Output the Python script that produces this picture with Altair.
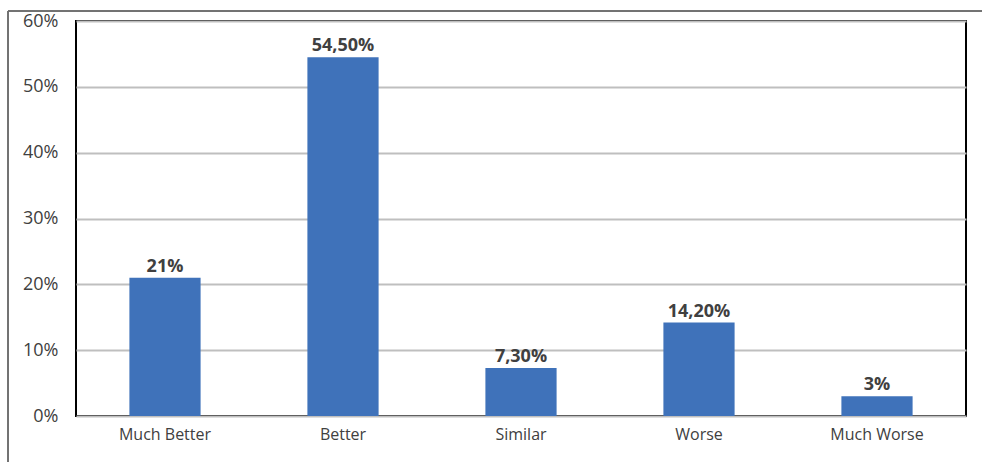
import altair as alt
import pandas as pd

categories = ["Much Better", "Better", "Similar", "Worse", "Much Worse"]
values = [21.0, 54.5, 7.3, 14.2, 3.0]
value_labels = ["21%", "54,50%", "7,30%", "14,20%", "3%"]
y_ticks = [0, 10, 20, 30, 40, 50, 60]

df = pd.DataFrame({"category": categories, "value": values, "label": value_labels})

FONT = "Open Sans"
BAR = "#3F72BA"

x_enc = alt.X(
    "category:N",
    sort=categories,
    title=None,
    scale=alt.Scale(paddingInner=0.6, paddingOuter=0.3),
    axis=alt.Axis(
        labelAngle=0, labelFont=FONT, labelFontSize=16, labelColor="#404040",
        labelPadding=10, ticks=False, domain=False, grid=False,
    ),
)
y_enc = alt.Y(
    "value:Q",
    title=None,
    scale=alt.Scale(domain=[0, 60], nice=False),
    axis=alt.Axis(
        values=y_ticks, labelExpr="datum.value + '%'", labelFont=FONT,
        labelFontSize=18, labelColor="#404040", labelPadding=18,
        ticks=False, domain=False, grid=True, gridColor="#BFBFBF", gridWidth=2,
    ),
)

bars = alt.Chart(df).mark_bar(color=BAR).encode(x=x_enc, y=y_enc)

labels = alt.Chart(df).mark_text(
    font=FONT, fontSize=18, fontWeight="bold", color="#404040",
    baseline="bottom", dy=-2,
).encode(x=alt.X("category:N", sort=categories), y="value:Q", text="label:N")

# outer frame of the figure (top and left edges)
frame_top = alt.Chart(df).mark_rule(color="#6E6E6E", strokeWidth=1).encode(
    x=alt.value(-68), x2=alt.value(910), y=alt.value(-10)
)
frame_left = alt.Chart(df).mark_rule(color="#6E6E6E", strokeWidth=1).encode(
    x=alt.value(-68), y=alt.value(-10), y2=alt.value(450)
)

chart = (
    alt.layer(bars, labels, frame_top, frame_left)
    .properties(
        width=890, height=395,
        autosize=alt.AutoSizeParams(type="none"),
        padding={"left": 76, "top": 21, "right": 16, "bottom": 46},
        background="white",
    )
    .configure_view(stroke="black", strokeWidth=2)
)

chart.save("out.html", embed_options={"renderer": "svg", "actions": False})
